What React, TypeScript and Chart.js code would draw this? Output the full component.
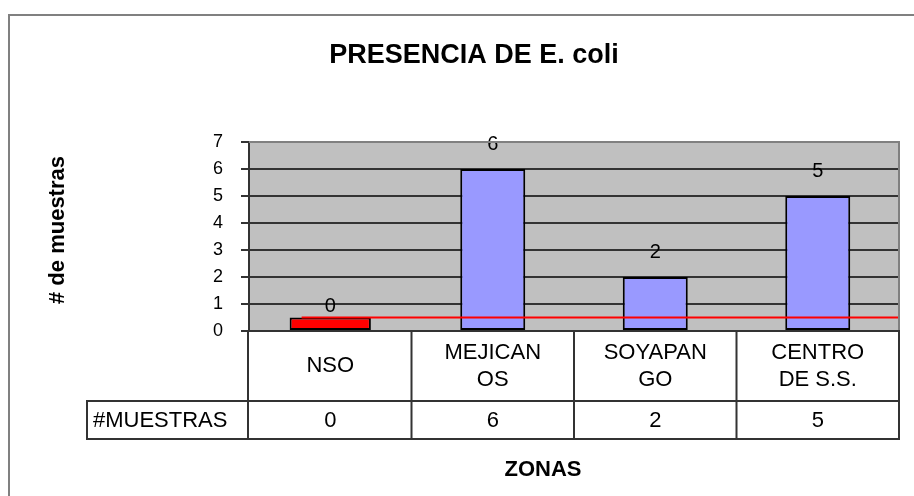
import { useEffect, useRef } from "react";
import { Chart, registerables } from "chart.js";

Chart.register(...registerables);

const chartTitle = "PRESENCIA DE E. coli";
const yAxisTitle = "# de muestras";
const xAxisTitle = "ZONAS";
const tableRowLabel = "#MUESTRAS";
const categories = ["NSO", "MEJICANOS", "SOYAPANGO", "CENTRO DE S.S."];
const categoryLines = [["NSO"], ["MEJICAN", "OS"], ["SOYAPAN", "GO"], ["CENTRO", "DE S.S."]];
const muestras = [0, 6, 2, 5];
const blueBars = [null, 6, 2, 5];
const redBars = [0.5, null, null, null];
const limitValue = 0.5;
const yMin = 0;
const yMax = 7;

const FONT = "'Liberation Sans', Arial, sans-serif";
const LINE = "#333333";

const excelPlugin = {
  id: "excelLook",
  beforeDraw(chart: any) {
    const { ctx, chartArea: a, width, height } = chart;
    ctx.save();
    ctx.fillStyle = "#ffffff";
    ctx.fillRect(0, 0, width, height);
    ctx.strokeStyle = "#808080";
    ctx.lineWidth = 2;
    ctx.beginPath();
    ctx.moveTo(9, height + 5);
    ctx.lineTo(9, 15);
    ctx.lineTo(width + 5, 15);
    ctx.stroke();
    ctx.fillStyle = "#C0C0C0";
    ctx.fillRect(a.left, a.top, a.right - a.left, a.bottom - a.top);
    ctx.restore();
  },
  afterDatasetsDraw(chart: any) {
    const { ctx, chartArea: a } = chart;
    const xs = chart.scales.x;
    const ys = chart.scales.y;
    ctx.save();
    // limit line
    const redMeta = chart.getDatasetMeta(0);
    const rb = redMeta.data[0];
    const ly = ys.getPixelForValue(limitValue);
    ctx.strokeStyle = "#FF0000";
    ctx.lineWidth = 2;
    ctx.beginPath();
    ctx.moveTo(rb.x - rb.width / 2 + 12, ly);
    ctx.lineTo(a.right, ly);
    ctx.stroke();
    // value labels
    ctx.fillStyle = "#000";
    ctx.font = `20px ${FONT}`;
    ctx.textAlign = "center";
    ctx.textBaseline = "middle";
    muestras.forEach((v, i) => {
      ctx.fillText(String(v), xs.getPixelForValue(i), ys.getPixelForValue(v) - 25);
    });
    ctx.restore();
  },
  afterDraw(chart: any) {
    const { ctx, chartArea: a } = chart;
    const xs = chart.scales.x;
    ctx.save();
    // plot right/top border
    ctx.strokeStyle = "#808080";
    ctx.lineWidth = 2;
    ctx.beginPath();
    ctx.moveTo(a.left, a.top);
    ctx.lineTo(a.right, a.top);
    ctx.lineTo(a.right, a.bottom);
    ctx.stroke();

    // data table
    const top = a.bottom;
    const mid = 401;
    const bot = 439;
    const labelLeft = 87;
    const bounds = categories.map((_, i) => xs.getPixelForValue(i - 0.5));
    bounds.push(xs.getPixelForValue(categories.length - 0.5));
    ctx.strokeStyle = LINE;
    ctx.lineWidth = 2;
    ctx.beginPath();
    bounds.forEach((bx, i) => {
      const x = i === 0 ? bx - 1 : i === bounds.length - 1 ? bx : bx;
      ctx.moveTo(x, top);
      ctx.lineTo(x, bot);
    });
    ctx.moveTo(labelLeft, mid);
    ctx.lineTo(a.right + 1, mid);
    ctx.moveTo(labelLeft, bot);
    ctx.lineTo(a.right + 1, bot);
    ctx.moveTo(labelLeft, mid - 1);
    ctx.lineTo(labelLeft, bot + 1);
    ctx.moveTo(a.left - 1, top);
    ctx.lineTo(a.right + 1, top);
    ctx.stroke();

    ctx.fillStyle = "#000";
    ctx.font = `22px ${FONT}`;
    ctx.textAlign = "center";
    ctx.textBaseline = "middle";
    const rowMid = (top + mid) / 2;
    categoryLines.forEach((lines, i) => {
      const cx = xs.getPixelForValue(i);
      const lh = 27;
      const start = rowMid - ((lines.length - 1) * lh) / 2;
      lines.forEach((t, j) => ctx.fillText(t, cx, start + j * lh));
      ctx.fillText(String(muestras[i]), cx, (mid + bot) / 2 + 1);
    });
    ctx.textAlign = "left";
    ctx.fillText(tableRowLabel, labelLeft + 6, (mid + bot) / 2 + 1);

    // titles
    ctx.textAlign = "center";
    ctx.font = `bold 27px ${FONT}`;
    ctx.fillText(chartTitle, 474, 56);
    ctx.font = `bold 22px ${FONT}`;
    ctx.fillText(xAxisTitle, 543, 470);
    ctx.translate(58, 230);
    ctx.rotate(-Math.PI / 2);
    ctx.fillText(yAxisTitle, 0, 0);
    ctx.restore();
  },
};

export default function App() {
  const ref = useRef<HTMLCanvasElement | null>(null);
  useEffect(() => {
    document.body.style.margin = "0";
    if (!ref.current) return;
    const chart = new Chart(ref.current, {
      type: "bar",
      data: {
        labels: categories,
        datasets: [
          {
            data: redBars,
            backgroundColor: "#FF0000",
            borderColor: "#000000",
            borderWidth: 2,
            borderSkipped: false,
            categoryPercentage: 0.5,
            barPercentage: 1,
            grouped: false,
          } as any,
          {
            data: blueBars,
            backgroundColor: "#9999FF",
            borderColor: "#000000",
            borderWidth: 2,
            borderSkipped: false,
            categoryPercentage: 0.4,
            barPercentage: 1,
            grouped: false,
          } as any,
        ],
      },
      options: {
        responsive: false,
        animation: false,
        layout: { padding: { left: 0, top: 142, right: 15, bottom: 165 } },
        plugins: { legend: { display: false }, tooltip: { enabled: false }, title: { display: false } },
        scales: {
          x: { display: false, offset: true },
          y: {
            min: yMin,
            max: yMax,
            ticks: { stepSize: 1, color: "#000", font: { family: FONT, size: 18 }, padding: 18 },
            grid: {
              color: (c: any) => (c.tick && c.tick.value === yMax ? "#808080" : LINE),
              tickColor: LINE,
              lineWidth: 2,
              tickLength: 8,
            },
            border: { color: LINE, width: 2 },
            afterFit: (s: any) => {
              s.width = 249;
            },
          },
        },
      },
      plugins: [excelPlugin],
    });
    return () => chart.destroy();
  }, []);
  return (
    <div style={{ width: 914, height: 496 }}>
      <canvas ref={ref} width={914} height={496} style={{ display: "block" }} />
    </div>
  );
}
